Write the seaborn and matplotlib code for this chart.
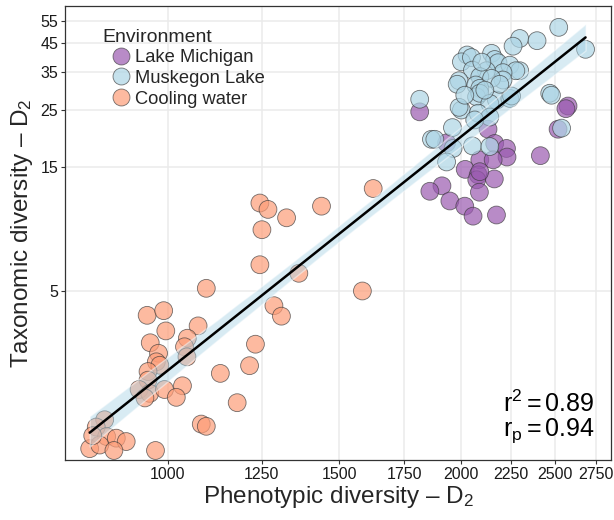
import numpy as np
import pandas as pd
import matplotlib
matplotlib.use("Agg")
import matplotlib.pyplot as plt
import seaborn as sns

# values (both axes are log scaled)
lake_michigan_x = [1815, 2577, 2564, 2517, 2133, 1934, 2167, 2228, 2231, 2414, 2092, 2159,
                   2021, 2084, 2077, 2165, 2090, 1913, 1859, 1949, 2019, 2059, 2176, 2092]
lake_michigan_y = [24.5, 25.8, 25.2, 21.0, 21.0, 18.6, 18.5, 17.7, 16.4, 16.6, 16.0, 16.0,
                   14.7, 14.0, 13.4, 13.5, 12.0, 12.7, 12.1, 11.1, 10.6, 9.7, 9.8, 14.4]

muskegon_x = [2521, 2686, 2299, 2263, 2395, 2030, 2003, 2051, 2151, 2167, 2184, 2246, 2299,
              2278, 2210, 2210, 2125, 2056, 2092, 2151, 1992, 1983, 2072, 2092, 2076, 2092,
              2176, 2142, 2246, 2255, 2468, 2478, 1815, 2003, 1992, 2084, 2142, 2067, 1961,
              1866, 1881, 1964, 1934, 2056, 2142, 2538, 2102, 2019, 2193, 2117]
muskegon_y = [51.9, 42.7, 47.0, 43.9, 46.1, 40.6, 38.2, 39.7, 41.2, 39.0, 37.9, 37.1, 35.3,
              35.3, 34.7, 32.5, 35.3, 35.5, 33.5, 33.0, 32.3, 31.3, 31.1, 30.2, 28.0, 28.9,
              27.2, 26.4, 27.6, 28.2, 28.9, 28.4, 27.4, 24.9, 25.5, 24.2, 23.4, 22.8, 21.3,
              19.2, 19.2, 17.7, 15.7, 18.1, 18.0, 21.2, 38.1, 28.4, 31.3, 29.7]

cooling_x = [1626, 1244, 1268, 1325, 1439, 1250, 1244, 1364, 1096, 1585, 1286, 1309, 953,
             991, 996, 1075, 960, 1048, 1041, 1231, 979, 1047, 974, 982, 955, 1214, 1133,
             955, 935, 959, 948, 993, 1036, 1021, 1179, 1083, 1096, 862, 845, 866, 886, 907,
             832, 852, 881, 972, 838]
cooling_y = [12.4, 10.9, 10.3, 9.56, 10.6, 8.6, 6.3, 5.84, 5.11, 4.99, 4.38, 3.99, 4.02,
             4.19, 3.50, 3.66, 3.15, 3.28, 3.04, 3.11, 2.87, 2.78, 2.66, 2.58, 2.44, 2.57, 2.40,
             2.26, 2.08, 2.01, 1.93, 2.08, 2.15, 1.94, 1.85, 1.53, 1.50, 1.59, 1.49, 1.37, 1.35,
             1.31, 1.23, 1.27, 1.21, 1.21, 1.38]

environments = ["Lake Michigan", "Muskegon Lake", "Cooling water"]
colors = ["#9A5AB0", "#ADD5E5", "#FD9D78"]
x_ticks = [1000, 1250, 1500, 1750, 2000, 2250, 2500, 2750]
y_ticks = [5, 15, 25, 35, 45, 55]

df = pd.concat([
    pd.DataFrame({"x": lake_michigan_x, "y": lake_michigan_y, "Environment": environments[0]}),
    pd.DataFrame({"x": muskegon_x, "y": muskegon_y, "Environment": environments[1]}),
    pd.DataFrame({"x": cooling_x, "y": cooling_y, "Environment": environments[2]}),
], ignore_index=True)
df["lx"] = np.log10(df["x"])
df["ly"] = np.log10(df["y"])

sns.set_style("white")
plt.rcParams["font.family"] = ["Liberation Sans", "DejaVu Sans"]
plt.rcParams["mathtext.fontset"] = "custom"
plt.rcParams["mathtext.rm"] = "Liberation Sans"
plt.rcParams["mathtext.it"] = "Liberation Sans"

fig, ax = plt.subplots(figsize=(6.14, 5.2), dpi=100)
fig.subplots_adjust(left=0.106, right=0.995, top=0.988, bottom=0.115)

sns.scatterplot(data=df, x="lx", y="ly", hue="Environment", hue_order=environments,
                palette=colors, s=165, alpha=0.7, edgecolor="#3a3a3a", linewidth=0.6, ax=ax)

# fit on log-log data, ribbon drawn over the points
sns.regplot(data=df, x="lx", y="ly", scatter=False, ax=ax, seed=3,
            line_kws={"color": "black", "lw": 1.8})
band = ax.collections[-1]
band.set_facecolor("#A9D3E6")
band.set_alpha(0.45)

ax.set_xlim(np.log10(785), np.log10(2852))
ax.set_ylim(np.log10(1.11), np.log10(62.6))
ax.set_xticks(np.log10(x_ticks))
ax.set_xticklabels([str(t) for t in x_ticks])
ax.set_yticks(np.log10(y_ticks))
ax.set_yticklabels([str(t) for t in y_ticks])
ax.grid(True, color="#EBEBEB", lw=1.1)
ax.set_axisbelow(True)
ax.tick_params(axis="both", length=3, width=0.8, color="#333333", labelsize=11.5,
               labelcolor="#1a1a1a", direction="out", bottom=True, left=True, pad=2)
for s in ax.spines.values():
    s.set_color("#333333")
    s.set_linewidth(0.9)

ax.set_xlabel(r"Phenotypic diversity – D$_{\mathregular{2}}$", fontsize=17.5, labelpad=1)
ax.set_ylabel(r"Taxonomic diversity – D$_{\mathregular{2}}$", fontsize=17.5, labelpad=4)

leg = ax.legend(title="Environment", loc="upper left", bbox_to_anchor=(0.055, 0.967),
                frameon=False, fontsize=13.2, title_fontsize=14, handletextpad=-0.25,
                labelspacing=0.2, borderaxespad=0, markerscale=0.95)
leg._legend_box.align = "left"

ax.text(0.97, 0.125, r"$\mathregular{r^2 = 0.89}$", transform=ax.transAxes,
        ha="right", va="center", fontsize=18, color="black")
ax.text(0.97, 0.065, r"$\mathregular{r_p = 0.94}$", transform=ax.transAxes,
        ha="right", va="center", fontsize=18, color="black")

fig.savefig("out.png", dpi=100)
